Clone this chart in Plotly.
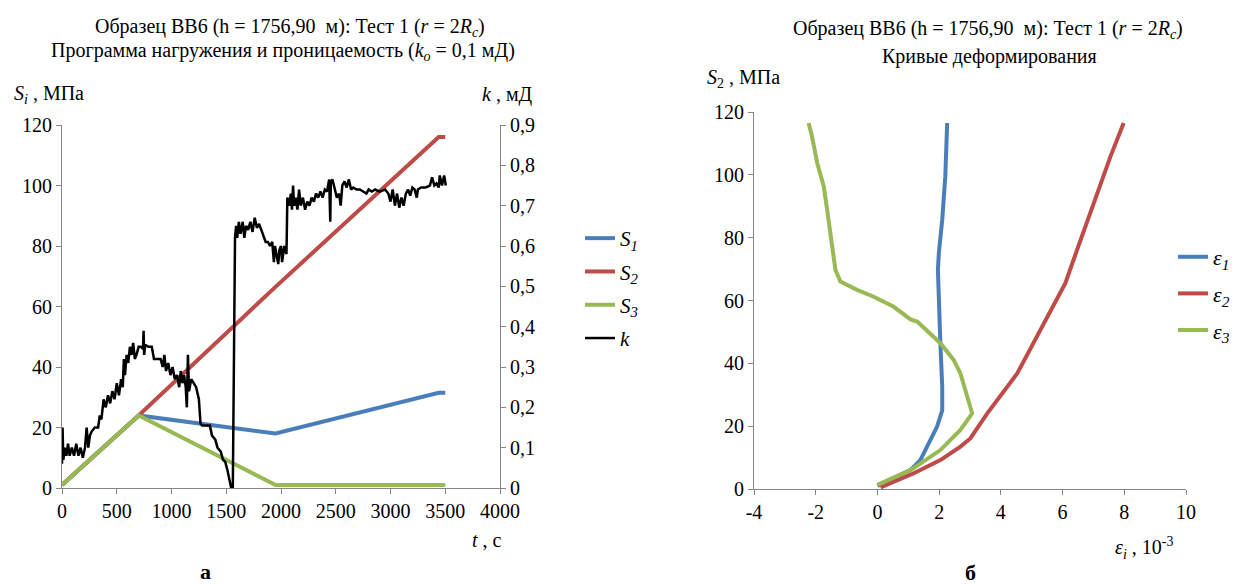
import plotly.graph_objects as go

# the page body keeps an 8 px default margin, so the figure is drawn 8 px smaller and offset
OFF = 8
W, H = 1250 - OFF, 584 - OFF
FONT = "Liberation Serif, DejaVu Serif, Times New Roman, serif"

# ---------------- Chart (а): loading programme and permeability ----------------
t_s = [0, 700, 1950, 3440, 3500]
s1 = [1, 24, 18, 31.5, 31.5]
s2 = [1, 24, 66.5, 116, 116]
s3 = [1, 24, 1, 1, 1]

t_k = [0, 5, 12, 25, 40, 55, 70, 90, 110, 130, 150, 170, 190, 210, 225, 240, 255, 270, 300, 330,
       345, 360, 380, 400, 420, 440, 460, 480, 500, 520, 540, 555, 565, 575, 590, 605, 620, 635, 650, 665,
       680, 700, 720, 740, 745, 750, 760, 790, 820, 840, 870, 900, 920, 935, 950, 970, 990, 1010, 1030, 1050,
       1070, 1085, 1100, 1115, 1130, 1140, 1150, 1160, 1180, 1200, 1225, 1250, 1265, 1280, 1320, 1350, 1370, 1400, 1420, 1450,
       1470, 1490, 1510, 1530, 1545, 1560, 1570, 1580, 1590, 1600, 1615, 1630, 1650, 1665, 1680, 1700, 1720, 1740, 1760, 1780,
       1800, 1820, 1840, 1860, 1880, 1900, 1920, 1935, 1945, 1960, 1975, 1985, 2000, 2010, 2030, 2050, 2058, 2075, 2090, 2100,
       2110, 2120, 2135, 2150, 2165, 2180, 2200, 2220, 2240, 2260, 2280, 2300, 2320, 2340, 2360, 2380, 2400, 2420, 2440, 2450,
       2455, 2470, 2490, 2510, 2530, 2545, 2560, 2580, 2600, 2620, 2640, 2660, 2690, 2720, 2750, 2780, 2800, 2830, 2860, 2900,
       2950, 2980, 3000, 3020, 3040, 3060, 3080, 3100, 3120, 3140, 3160, 3180, 3200, 3220, 3240, 3250, 3280, 3320, 3360, 3380,
       3400, 3420, 3440, 3450, 3470, 3490, 3505]
k_md = [0.06, 0.15, 0.07, 0.10, 0.08, 0.11, 0.08, 0.10, 0.08, 0.11, 0.08, 0.10, 0.075, 0.10, 0.15, 0.10, 0.13, 0.14, 0.15, 0.15,
        0.18, 0.17, 0.22, 0.20, 0.23, 0.21, 0.24, 0.22, 0.26, 0.23, 0.27, 0.25, 0.32, 0.28, 0.33, 0.31, 0.35, 0.33, 0.36, 0.32,
        0.33, 0.35, 0.35, 0.345, 0.39, 0.33, 0.355, 0.35, 0.35, 0.32, 0.32, 0.32, 0.30, 0.33, 0.29, 0.31, 0.28, 0.30, 0.27, 0.28,
        0.25, 0.29, 0.26, 0.28, 0.25, 0.20, 0.33, 0.24, 0.27, 0.26, 0.25, 0.22, 0.16, 0.155, 0.155, 0.155, 0.13, 0.12, 0.10, 0.09,
        0.07, 0.065, 0.045, 0.02, 0.0, 0.0, 0.45, 0.62, 0.65, 0.62, 0.66, 0.63, 0.66, 0.62, 0.65, 0.64, 0.66, 0.635, 0.67, 0.645,
        0.655, 0.64, 0.62, 0.61, 0.61, 0.60, 0.61, 0.56, 0.60, 0.58, 0.555, 0.59, 0.60, 0.56, 0.60, 0.58, 0.72, 0.70, 0.73, 0.69,
        0.75, 0.70, 0.72, 0.69, 0.74, 0.70, 0.72, 0.69, 0.71, 0.70, 0.72, 0.71, 0.73, 0.72, 0.735, 0.72, 0.74, 0.735, 0.765, 0.66,
        0.76, 0.765, 0.74, 0.72, 0.73, 0.70, 0.75, 0.76, 0.745, 0.765, 0.74, 0.745, 0.74, 0.74, 0.735, 0.73, 0.74, 0.735, 0.74, 0.735,
        0.74, 0.73, 0.71, 0.74, 0.70, 0.73, 0.695, 0.72, 0.70, 0.73, 0.74, 0.725, 0.745, 0.74, 0.72, 0.74, 0.745, 0.745, 0.75, 0.77,
        0.75, 0.755, 0.745, 0.775, 0.75, 0.775, 0.75]

t_ticks = [0, 500, 1000, 1500, 2000, 2500, 3000, 3500, 4000]
s_ticks = [0, 20, 40, 60, 80, 100, 120]
k_ticks = [0, 0.1, 0.2, 0.3, 0.4, 0.5, 0.6, 0.7, 0.8, 0.9]
k_tick_labels = ["0", "0,1", "0,2", "0,3", "0,4", "0,5", "0,6", "0,7", "0,8", "0,9"]

# ---------------- Chart (б): deformation curves ----------------
e1_x = [0.0, 1.07, 1.39, 1.66, 1.93, 2.10, 2.10, 2.04, 1.99, 1.96, 1.99, 2.10, 2.20, 2.26]
e1_y = [1.0, 6.0, 9.2, 14.5, 19.8, 25.0, 32.6, 46.4, 57.0, 69.7, 75.0, 85.7, 99.5, 116.5]
e2_x = [0.1, 1.18, 2.04, 2.69, 3.01, 3.56, 4.53, 5.28, 6.09, 6.47, 7.01, 7.55, 7.98]
e2_y = [0.5, 5.0, 9.2, 13.5, 16.1, 24.1, 36.8, 50.6, 65.5, 76.1, 91.0, 105.8, 116.5]
e3_x = [0.0, 1.07, 2.04, 2.69, 3.07, 2.91, 2.69, 2.47, 2.04, 1.29, 1.07, 0.53, -0.12, -0.66, -1.20, -1.36, -1.47, -1.63, -1.74, -1.95, -2.12, -2.23]
e3_y = [1.3, 6.0, 12.4, 18.8, 24.1, 29.4, 36.8, 41.1, 46.4, 53.3, 54.0, 58.0, 61.2, 63.4, 66.0, 69.7, 78.2, 88.9, 96.3, 103.7, 112.2, 116.5]

e_ticks = [-4, -2, 0, 2, 4, 6, 8, 10]
e_tick_labels = ["-4", "-2", "0", "2", "4", "6", "8", "10"]

BLUE, RED, GREEN = "#4A7EBB", "#BE4B48", "#98B954"
AXC = "#868686"


def px(x):
    return (x - OFF) / W


def py(y):
    return 1 - (y - OFF) / H


fig = go.Figure()
lw = 4
fig.add_trace(go.Scatter(x=t_s, y=s1, mode="lines", line=dict(color=BLUE, width=lw),
                         name="<i>S</i><sub><i>1</i></sub>", legend="legend", legendgroup="a1"))
fig.add_trace(go.Scatter(x=t_s, y=s2, mode="lines", line=dict(color=RED, width=lw),
                         name="<i>S</i><sub><i>2</i></sub>", legend="legend", legendgroup="a2"))
fig.add_trace(go.Scatter(x=t_s, y=s3, mode="lines", line=dict(color=GREEN, width=lw),
                         name="<i>S</i><sub><i>3</i></sub>", legend="legend", legendgroup="a3"))
fig.add_trace(go.Scatter(x=t_k, y=k_md, mode="lines", line=dict(color="black", width=2.5),
                         name="<i>k</i>", yaxis="y2", legend="legend", legendgroup="a4"))

fig.add_trace(go.Scatter(x=e1_x, y=e1_y, mode="lines", line=dict(color=BLUE, width=lw),
                         name="<i>ε</i><sub><i>1</i></sub>", xaxis="x3", yaxis="y3", legend="legend2", legendgroup="b1"))
fig.add_trace(go.Scatter(x=e2_x, y=e2_y, mode="lines", line=dict(color=RED, width=lw),
                         name="<i>ε</i><sub><i>2</i></sub>", xaxis="x3", yaxis="y3", legend="legend2", legendgroup="b2"))
fig.add_trace(go.Scatter(x=e3_x, y=e3_y, mode="lines", line=dict(color=GREEN, width=lw),
                         name="<i>ε</i><sub><i>3</i></sub>", xaxis="x3", yaxis="y3", legend="legend2", legendgroup="b3"))

tickfont = dict(family=FONT, size=20, color="black")
axis_common = dict(showgrid=False, zeroline=False, showline=True, linecolor=AXC, linewidth=1,
                   ticks="outside", ticklen=5, tickcolor=AXC, tickfont=tickfont, fixedrange=True,
                   automargin=False)

fig.update_layout(
    width=W, height=H,
    margin=dict(l=0, r=0, t=0, b=0, pad=0, autoexpand=False),
    paper_bgcolor="white", plot_bgcolor="white",
    font=dict(family=FONT, size=19, color="black"),
    xaxis=dict(domain=[px(62), px(500)], range=[0, 4000], tickvals=t_ticks, anchor="y", **axis_common),
    yaxis=dict(domain=[py(488), py(125)], range=[0, 120], tickvals=s_ticks, anchor="x", **axis_common),
    yaxis2=dict(overlaying="y", side="right", range=[0, 0.9], tickvals=k_ticks, ticktext=k_tick_labels,
                anchor="x", **axis_common),
    xaxis3=dict(domain=[px(754), px(1186)], range=[-4, 10], tickvals=e_ticks, ticktext=e_tick_labels,
                anchor="y3", **axis_common),
    yaxis3=dict(domain=[py(489), py(112)], range=[0, 120], tickvals=s_ticks, anchor="x3", **axis_common),
    legend=dict(x=px(580), y=py(218), xanchor="left", yanchor="top", font=dict(family=FONT, size=21),
                tracegroupgap=3, bgcolor="rgba(0,0,0,0)"),
    legend2=dict(x=px(1173), y=py(236), xanchor="left", yanchor="top", font=dict(family=FONT, size=22),
                 tracegroupgap=5, bgcolor="rgba(0,0,0,0)"),
    showlegend=True,
)

ann = [
    ("Образец ВВ6 (h = 1756,90  м): Тест 1 (<i>r</i> = 2<i>R<sub>c</sub></i>)", 290, 27, 20, "center"),
    ("Программа нагружения и проницаемость (<i>k<sub>o</sub></i> = 0,1 мД)", 283, 51, 20, "center"),
    ("<i>S<sub>i</sub></i> , МПа", 12, 95, 20, "left"),
    ("<i>k</i> , мД", 480, 95, 20, "left"),
    ("<i>t</i> , с", 470, 540, 20, "left"),
    ("<b>а</b>", 205, 571, 22, "center"),
    ("Образец ВВ6 (h = 1756,90  м): Тест 1 (<i>r</i> = 2<i>R<sub>c</sub></i>)", 988, 30, 20, "center"),
    ("Кривые деформирования", 989, 56, 20, "center"),
    ("<i>S</i><sub>2</sub> , МПа", 705, 78, 20, "left"),
    ("<i>ε<sub>i</sub></i> , 10<sup>-3</sup>", 1113, 548, 20, "left"),
    ("<b>б</b>", 970, 572, 22, "center"),
]
for text, x, y, size, align in ann:
    fig.add_annotation(text=text, x=px(x), y=py(y), xref="paper", yref="paper",
                       xanchor=align, yanchor="middle", showarrow=False,
                       font=dict(family=FONT, size=size, color="black"))

fig.write_html("out.html")
